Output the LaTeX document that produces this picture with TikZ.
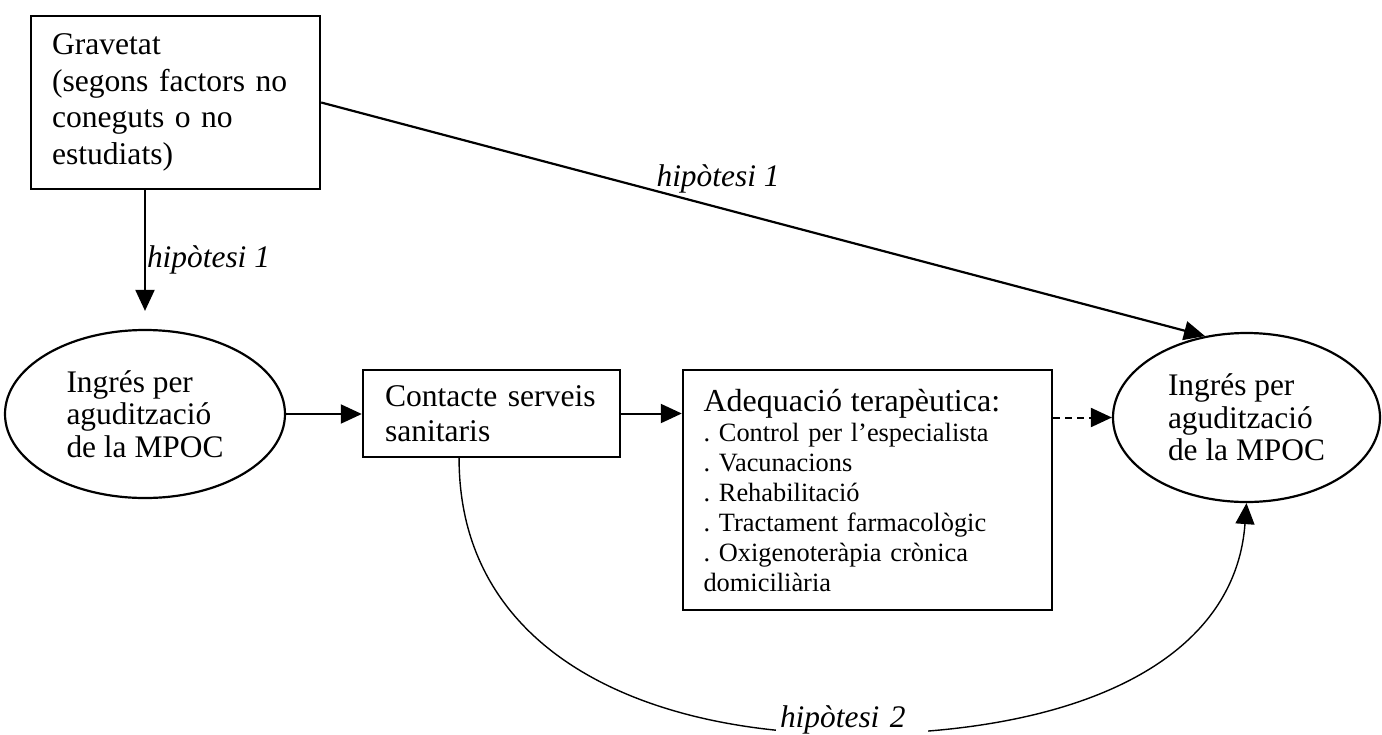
\documentclass[tikz,border=0pt]{standalone}
\usepackage{fontspec}
\setmainfont{Liberation Serif}
\usetikzlibrary{arrows.meta,shapes.geometric,calc}
\frenchspacing
\begin{document}
\begin{tikzpicture}[x=0.5pt,y=-0.5pt,
  box/.style={draw,line width=1.2pt,rectangle,inner ysep=0pt,align=left},
  ell/.style={draw,line width=1.1pt,ellipse,inner sep=0pt,align=left,font=\fontsize{15.7}{16.2}\selectfont},
  arr/.style={line width=1pt,-{Triangle[length=10.5pt,width=9.5pt]}},
  lbl/.style={font=\fontsize{15.7}{18}\selectfont\itshape,inner sep=0pt},
  lbltwo/.style={lbl,fill=white,text width=72pt,inner xsep=2pt,inner ysep=1pt,align=left},
]
\useasboundingbox (0,0) rectangle (1382,734);

\node[box, minimum width=144.5pt, minimum height=86.5pt, text width=123.5pt, inner xsep=10.5pt,
      font=\fontsize{15.8}{18.35}\selectfont] (grav) at (175.5,102.5)
  {Gravetat\\(segons factors no\\coneguts o no\\estudiats)};

\node[ell, minimum width=140pt, minimum height=84pt] (lell) at (145,414)
  {Ingrés per\\agudització\\de la MPOC};

\node[ell, minimum width=133.5pt, minimum height=84.5pt] (rell) at (1246.5,417.5)
  {Ingrés per\\agudització\\de la MPOC};

\node[box, minimum width=128.5pt, minimum height=43.5pt, text width=106.5pt, inner xsep=11pt,
      font=\fontsize{15.8}{17.5}\selectfont] (cont) at (491.5,413.5)
  {Contacte serveis\\sanitaris};

\node[box, minimum width=184.5pt, minimum height=120pt, text width=164pt, inner xsep=10.25pt,
      font=\fontsize{13.2}{15}\selectfont] (adeq) at (867.5,490)
  {{\fontsize{16}{15}\selectfont Adequació terapèutica:}\\
   . Control per l’especialista\\
   . Vacunacions\\
   . Rehabilitació\\
   . Tractament farmacològic\\
   . Oxigenoteràpia crònica\\
   domiciliària};

\draw[arr, shorten >=9pt] (grav.south -| lell.north) -- (lell.north)
  node[lbl, pos=0.5, anchor=west, xshift=0.5pt] {hipòtesi 1};

\draw[arr, line width=1.1pt] (grav.east) -- (rell.117)
  node[lbl, pos=0.449, anchor=south, yshift=6.7pt] {hipòtesi 1};

\draw[arr] (lell.east) -- (lell.east -| cont.west);
\draw[arr] (cont.east) -- (cont.east -| adeq.west);
\draw[arr, dash pattern=on 3.5pt off 2.5pt] (rell.west -| adeq.east) -- (rell.west);

\coordinate (h2s) at ($(cont.south west)!0.375!(cont.south east)$);
\draw[arr, line width=0.7pt] (h2s) .. controls (459,650) and (640,734) .. (852,734)
  node[lbltwo, anchor=base, yshift=3.5pt] {hipòtesi 2}
  .. controls (1080,734) and (1235,660) .. (rell.south);
\end{tikzpicture}
\end{document}
